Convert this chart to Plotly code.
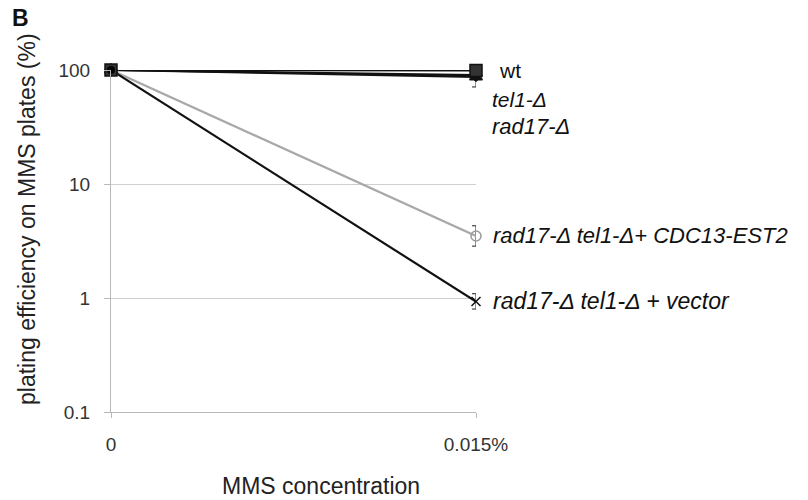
import math
import plotly.graph_objects as go

# ---- data ----
concentrations = ["0", "0.015%"]
strains = ["wt", "tel1-Δ", "rad17-Δ", "rad17-Δ tel1-Δ+ CDC13-EST2", "rad17-Δ tel1-Δ + vector"]
wt = [100, 99]
tel1 = [100, 87]
rad17 = [100, 90]
cdc13 = [100, 3.5]
vector = [100, 0.93]
err_plus = {"wt": [0, 0], "tel1": [0, 6], "rad17": [0, 0], "cdc13": [0, 0.8], "vector": [0, 0.16]}
err_minus = {"wt": [6, 0], "tel1": [0, 16], "rad17": [0, 0], "cdc13": [0, 0.65], "vector": [0, 0.13]}
y_ticks = [100, 10, 1, 0.1]
y_tick_text = ["100", "10", "1", "0.1"]
# label anchor values (log scale), placed beside the end points
label_vals = [99, 55, 32, 3.5, 0.95]

FONT = "Liberation Sans, Arial, sans-serif"
fig = go.Figure()

def add(name, y, key, color, line_color, symbol, size, fill, lw=2.2):
    fig.add_trace(go.Scatter(
        x=concentrations, y=y, mode="lines+markers", name=name,
        line=dict(color=line_color, width=lw),
        marker=dict(symbol=symbol, size=size, color=fill,
                    line=dict(color=color, width=1.5)),
        error_y=dict(type="data", symmetric=False, array=err_plus[key],
                     arrayminus=err_minus[key], color="#222", thickness=1, width=4),
        cliponaxis=False, showlegend=False))

add(strains[3], cdc13, "cdc13", "#9a9a9a", "#a8a8a8", "circle-open", 10, "#9a9a9a")
add(strains[4], vector, "vector", "#111", "#111", "x-thin-open", 9, "#111")
add(strains[2], rad17, "rad17", "#111", "#111", "diamond", 9, "#111")
add(strains[1], tel1, "tel1", "#111", "#111", "triangle-up", 11, "#111")
add(strains[0], wt, "wt", "#111", "#111", "square", 12, "#333")
fig.add_trace(go.Scatter(x=concentrations[:1], y=vector[:1], mode="markers",
                         marker=dict(symbol="circle", size=8, color="#000"),
                         cliponaxis=False, showlegend=False))

label_x_shift = [21, 14, 14, 15, 15]
label_sizes = [21, 21, 22, 22, 23]
for i, s in enumerate(strains):
    fig.add_annotation(x=1, y=math.log10(label_vals[i]),
                       text=(s if i == 0 else "<i>" + s + "</i>"),
                       xref="x", yref="y", xanchor="left", yanchor="middle",
                       xshift=label_x_shift[i], showarrow=False,
                       font=dict(family=FONT, size=label_sizes[i], color="#111"))

fig.add_annotation(x=-101 / 365, y=1 + 52 / 342, xref="paper", yref="paper",
                   text="<b>B</b>", showarrow=False, xanchor="left", yanchor="middle",
                   font=dict(family=FONT, size=23, color="#111"))
fig.add_annotation(x=(27 - 111) / 365, y=(412 - 219) / 342, xref="paper", yref="paper",
                   text="plating efficiency on MMS plates (%)", textangle=-90,
                   showarrow=False, xanchor="center", yanchor="middle",
                   font=dict(family=FONT, size=23, color="#222"))
fig.add_annotation(x=(321 - 111) / 365, y=-(486 - 412) / 342, xref="paper", yref="paper",
                   text="MMS concentration", showarrow=False,
                   xanchor="center", yanchor="middle",
                   font=dict(family=FONT, size=23, color="#222"))

fig.update_layout(
    width=808, height=500,
    margin=dict(l=111, r=332, t=70, b=88),
    plot_bgcolor="white", paper_bgcolor="white",
    font=dict(family=FONT, color="#333"),
    xaxis=dict(type="category", range=[0, 1], showgrid=False,
               showline=True, linecolor="#b8b8b8", linewidth=1,
               ticks="outside", ticklen=5, tickcolor="#b8b8b8",
               tickfont=dict(size=19, color="#333"), ticklabelstandoff=10,
               zeroline=False),
    yaxis=dict(type="log", range=[-1, 2], tickvals=y_ticks, ticktext=y_tick_text,
               showgrid=True, gridcolor="#cfcfcf", gridwidth=1,
               showline=True, linecolor="#b8b8b8", linewidth=1,
               ticks="outside", ticklen=6, tickcolor="#b8b8b8",
               tickfont=dict(size=19, color="#333"), ticklabelstandoff=10,
               zeroline=False),
)

fig.write_html("out.html")
